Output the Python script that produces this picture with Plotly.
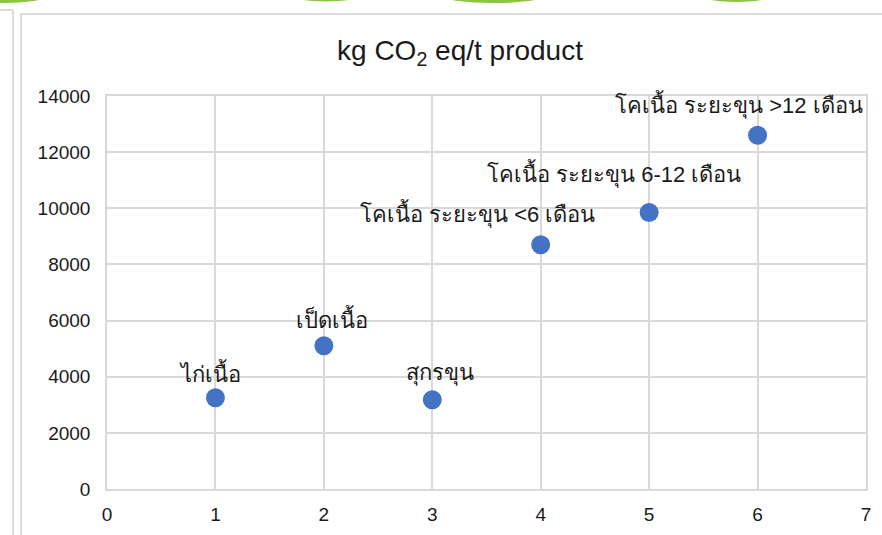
import plotly.graph_objects as go

# Emission intensity by livestock product
categories = ["ไก่เนื้อ", "เป็ดเนื้อ", "สุกรขุน",
              "โคเนื้อ ระยะขุน <6 เดือน",
              "โคเนื้อ ระยะขุน 6-12 เดือน",
              "โคเนื้อ ระยะขุน >12 เดือน"]
x_vals = [1, 2, 3, 4, 5, 6]
y_vals = [3250, 5100, 3180, 8700, 9850, 12600]
x_ticks = [0, 1, 2, 3, 4, 5, 6, 7]
y_ticks = [0, 2000, 4000, 6000, 8000, 10000, 12000, 14000]

# label offsets in pixels (dx, dy) relative to each point
label_offsets = [(-5, 25), (8, 27), (8, 27), (-63, 31), (-35, 39), (-19, 31)]

W, H = 882, 535
L, R, T, B = 107, 16, 96, 46
PW, PH = W - L - R, H - T - B


def px(x):
    return (x - L) / PW


def py(y):
    return (H - B - y) / PH


FONT = "Liberation Sans, Arial, sans-serif"
TEXT = "#1a1a1a"
GRID = "#d9d9d9"

fig = go.Figure()
fig.add_trace(go.Scatter(
    x=x_vals, y=y_vals, mode="markers",
    marker=dict(size=19, color="#4472C4", line=dict(width=0)),
    hoverinfo="text", text=categories, showlegend=False,
))

for xv, yv, lab, (dx, dy) in zip(x_vals, y_vals, categories, label_offsets):
    fig.add_annotation(x=xv, y=yv, text=lab, showarrow=False,
                       xanchor="center", yanchor="middle",
                       xshift=dx, yshift=dy,
                       font=dict(family=FONT, size=22, color=TEXT))

shapes = []
# outer frame lines
shapes.append(dict(type="line", xref="paper", yref="paper",
                   x0=px(13), x1=px(13), y0=py(10), y1=py(540),
                   line=dict(color="#dcdcdc", width=2)))
shapes.append(dict(type="line", xref="paper", yref="paper",
                   x0=px(-2), x1=px(13), y0=py(10), y1=py(10),
                   line=dict(color="#dcdcdc", width=2)))
# chart box
shapes.append(dict(type="rect", xref="paper", yref="paper",
                   x0=px(21), x1=px(900), y0=py(14), y1=py(560),
                   line=dict(color="#dcdcdc", width=2), fillcolor="rgba(0,0,0,0)",
                   layer="below"))
# green arcs along the top edge
for x0, x1, depth in [(-40, 46, 3), (292, 360, 1.5), (444, 543, 3), (703, 770, 2)]:
    shapes.append(dict(type="circle", xref="paper", yref="paper",
                       x0=px(x0), x1=px(x1), y0=py(depth), y1=py(-10),
                       line=dict(width=0), fillcolor="#8cc63e", layer="above"))

fig.update_layout(
    width=W, height=H,
    margin=dict(l=L, r=R, t=T, b=B, autoexpand=False),
    paper_bgcolor="white", plot_bgcolor="white",
    shapes=shapes,
    title=dict(text="kg CO<sub>2</sub> eq/t product",
               x=px(460), xref="paper", xanchor="center",
               y=1 - 50 / H, yref="container", yanchor="middle",
               font=dict(family=FONT, size=28, color=TEXT)),
    xaxis=dict(range=[0, 7], tickvals=x_ticks, showgrid=True, gridcolor=GRID,
               gridwidth=1.5, zeroline=False, showline=True, linecolor=GRID,
               linewidth=1.5, mirror=True, ticks="", ticklabelstandoff=7,
               automargin=False,
               tickfont=dict(family=FONT, size=19, color=TEXT), fixedrange=True),
    yaxis=dict(range=[0, 14000], tickvals=y_ticks, tickformat="d",
               showgrid=True, gridcolor=GRID,
               gridwidth=1.5, zeroline=False, showline=True, linecolor=GRID,
               linewidth=1.5, mirror=True, ticks="", ticklabelstandoff=11,
               automargin=False,
               tickfont=dict(family=FONT, size=19, color=TEXT), fixedrange=True),
)

fig.write_html("out.html")
